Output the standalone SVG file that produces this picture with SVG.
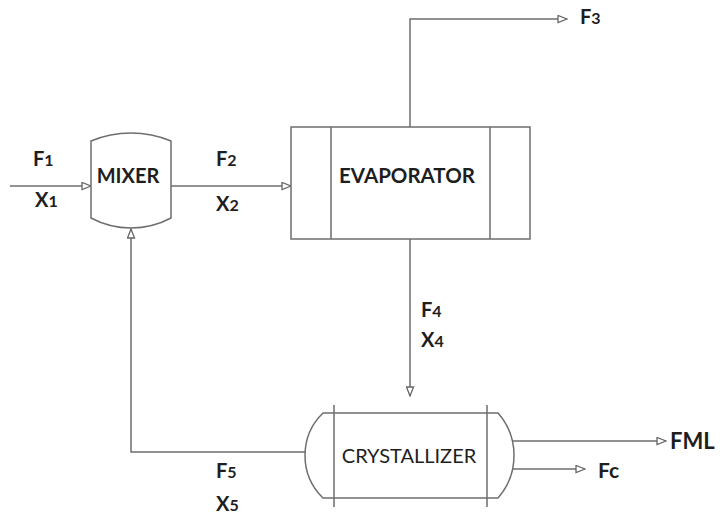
<svg xmlns="http://www.w3.org/2000/svg" width="725" height="516" viewBox="0 0 725 516">
<style>
.ln{fill:none;stroke:#6e6e6e;stroke-width:1.5}
.sh{fill:#fff;stroke:#6e6e6e;stroke-width:1.5}
.lb{font-family:Lato,"Open Sans","Liberation Sans",sans-serif;font-weight:bold;font-size:20px;fill:#1e1e1e}
.sub{font-size:16px}
.nm{font-family:Lato,"Open Sans","Liberation Sans",sans-serif;font-size:19px;fill:#1e1e1e;text-anchor:middle}
</style>
<defs>
<marker id="ar" markerUnits="userSpaceOnUse" markerWidth="11" markerHeight="9" refX="10" refY="4.5" orient="auto">
<path d="M1,1 L10,4.5 L1,8 z" fill="#fff" stroke="#666" stroke-width="1.3"/>
</marker>
</defs>
<rect width="725" height="516" fill="#fff"/>
<g id="connectors">
<path class="ln" d="M10,186 H91" marker-end="url(#ar)"/>
<path class="ln" d="M171,186 H291" marker-end="url(#ar)"/>
<path class="ln" d="M410,127 V19 H567" marker-end="url(#ar)"/>
<path class="ln" d="M410,239 V396" marker-end="url(#ar)"/>
<path class="ln" d="M305,452 H131 V229" marker-end="url(#ar)"/>
<path class="ln" d="M513,441 H666" marker-end="url(#ar)"/>
<path class="ln" d="M513,469 H585" marker-end="url(#ar)"/>
</g>
<g id="mixer">
<path class="sh" d="M91,141 A104,104 0 0 1 171,141 V218 A85,85 0 0 1 91,218 Z"/>
<text class="lb" x="128" y="183" text-anchor="middle" style="font-size:20px">MIXER</text>
</g>
<g id="evaporator">
<rect class="sh" x="291" y="127" width="239" height="112"/>
<path class="ln" d="M331,127 V239 M490,127 V239"/>
<text class="lb" x="407" y="183" text-anchor="middle" style="font-size:20.5px">EVAPORATOR</text>
</g>
<g id="crystallizer">
<path class="sh" d="M323,413 H498 A64.4,64.4 0 0 1 498,498 H323 A59.2,59.2 0 0 1 323,413 Z"/>
<path class="ln" d="M334,405 V507 M487,405 V507"/>
<text class="nm" x="409" y="463" style="font-size:20px">CRYSTALLIZER</text>
</g>
<g id="labels">
<text class="lb" x="33" y="166">F<tspan class="sub">1</tspan></text>
<text class="lb" x="35" y="207">X<tspan class="sub">1</tspan></text>
<text class="lb" x="216" y="166">F<tspan class="sub">2</tspan></text>
<text class="lb" x="216" y="211">X<tspan class="sub">2</tspan></text>
<text class="lb" x="580" y="24">F<tspan class="sub">3</tspan></text>
<text class="lb" x="421" y="317">F<tspan class="sub">4</tspan></text>
<text class="lb" x="421" y="347">X<tspan class="sub">4</tspan></text>
<text class="lb" x="216" y="478">F<tspan class="sub">5</tspan></text>
<text class="lb" x="216" y="511">X<tspan class="sub">5</tspan></text>
<text class="lb" x="670" y="449" style="font-size:22px">FML</text>
<text class="lb" x="598" y="478" style="font-size:21px">Fc</text>
</g>
</svg>
